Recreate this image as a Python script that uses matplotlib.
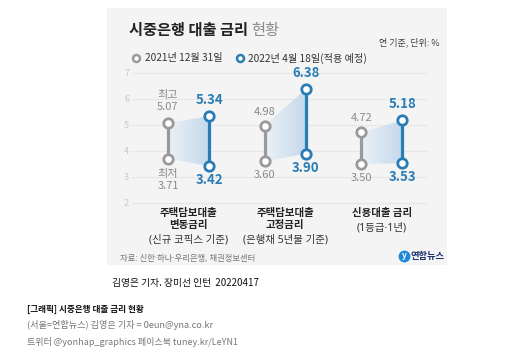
import numpy as np
import matplotlib
matplotlib.use('Agg')
import matplotlib.pyplot as plt
from matplotlib.patches import Rectangle, Polygon
from matplotlib.colors import LinearSegmentedColormap

plt.rcParams['font.family'] = ['Noto Sans CJK KR', 'DejaVu Sans']

# data
cat_main = ['주택담보대출\n변동금리', '주택담보대출\n고정금리', '신용대출 금리']
cat_sub = ['(신규 코픽스 기준)', '(은행채 5년물 기준)', '(1등급·1년)']
high_2021 = [5.07, 4.98, 4.72]
low_2021 = [3.71, 3.60, 3.50]
high_2022 = [5.34, 6.38, 5.18]
low_2022 = [3.42, 3.90, 3.53]
yticks = [2, 3, 4, 5, 6, 7]
legend_labels = ['2021년 12월 31일', '2022년 4월 18일(적용 예정)']

GREY = '#9a9a9a'
BLUE = '#2a7db4'
W, H = 510, 356
MIXED = ['Noto Sans', 'Noto Sans CJK KR']


def fx(px):
    return px / W


def fy(py):
    return 1 - py / H


fig = plt.figure(figsize=(5.1, 3.56), dpi=100)
fig.patch.set_facecolor('white')

# card background
fig.patches.append(Rectangle((fx(107), fy(265)), fx(447) - fx(107), fy(8) - fy(265),
                             transform=fig.transFigure, facecolor='#f4f4f4',
                             edgecolor='none', zorder=-5))

ax = fig.add_axes([fx(107), fy(208), fx(447) - fx(107), fy(68) - fy(208)])
ax.set_facecolor('none')
ax.set_zorder(2)
for s in ax.spines.values():
    s.set_visible(False)
ax.set_xticks([])
ax.set_yticks([])

x = np.arange(len(cat_main))
off = 0.212
xg = x - off
xb = x + off

# grid + tick labels
for t in yticks:
    ax.plot([-0.58, 2.45], [t, t], color='#e6e6e6', lw=0.8, zorder=1)
    ax.text(-0.64, t, str(t), ha='center', va='center', fontsize=6.5, color='#c8c8c8')

# shaded band between the two dates
cmap = LinearSegmentedColormap.from_list('band', ['#ebf0f5', '#c4d9ec'])
grad = np.linspace(0, 1, 64).reshape(1, -1)
for i in range(len(x)):
    poly = Polygon([(xg[i], high_2021[i]), (xb[i], high_2022[i]),
                    (xb[i], low_2022[i]), (xg[i], low_2021[i])],
                   closed=True, facecolor='none', edgecolor='none')
    ax.add_patch(poly)
    im = ax.imshow(grad, cmap=cmap, aspect='auto', zorder=2,
                   extent=[xg[i], xb[i], min(low_2021[i], low_2022[i]),
                           max(high_2021[i], high_2022[i])])
    im.set_clip_path(poly)

# range bars
for i in range(len(x)):
    ax.plot([xg[i], xg[i]], [low_2021[i], high_2021[i]], color=GREY, lw=2.3,
            marker='o', ms=6.8, mfc='white', mec=GREY, mew=2, zorder=3)
    ax.plot([xb[i], xb[i]], [low_2022[i], high_2022[i]], color=BLUE, lw=2.3,
            marker='o', ms=6.8, mfc='white', mec=BLUE, mew=2, zorder=3)

# value labels
for i in range(len(x)):
    top_g = f'{high_2021[i]:.2f}'
    bot_g = f'{low_2021[i]:.2f}'
    if i == 0:
        ax.annotate('최고\n' + top_g, (xg[i], high_2021[i]), xytext=(0, 22),
                    textcoords='offset pixels', ha='center', va='center',
                    fontsize=8, color='#8a8a8a', linespacing=1.25)
        ax.annotate('최저\n' + bot_g, (xg[i], low_2021[i]), xytext=(0, -21),
                    textcoords='offset pixels', ha='center', va='center',
                    fontsize=8, color='#8a8a8a', linespacing=1.25)
    else:
        ax.annotate(top_g, (xg[i], high_2021[i]), xytext=(0, 14),
                    textcoords='offset pixels', ha='center', va='center',
                    fontsize=8, color='#8a8a8a')
        ax.annotate(bot_g, (xg[i], low_2021[i]), xytext=(0, -14),
                    textcoords='offset pixels', ha='center', va='center',
                    fontsize=8, color='#8a8a8a')
    ax.annotate(f'{high_2022[i]:.2f}', (xb[i], high_2022[i]), xytext=(0, 16),
                textcoords='offset pixels', ha='center', va='center',
                fontsize=9.5, fontweight='bold', color=BLUE)
    ax.annotate(f'{low_2022[i]:.2f}', (xb[i], low_2022[i]), xytext=(0, -14),
                textcoords='offset pixels', ha='center', va='center',
                fontsize=9.5, fontweight='bold', color=BLUE)

ax.set_xlim(-0.842, 2.672)
ax.set_ylim(2 - 5 / 26, 7 + 5 / 26)

# category labels
for i in range(len(x)):
    lines = cat_main[i].split('\n')
    for j, ln in enumerate(lines):
        ax.annotate(ln, (x[i], 2), xytext=(0, -10 - 12 * j), textcoords='offset pixels',
                    ha='center', va='center', fontsize=7.5, fontweight='bold',
                    color='#222222')
    ax.annotate(cat_sub[i], (x[i], 2), xytext=(0, -10 - 12 * len(lines) - 2.5),
                textcoords='offset pixels', ha='center', va='center',
                fontsize=7.5, color='#333333', family=MIXED)

# title
t1 = fig.text(fx(129), fy(35), '시중은행 대출 금리', fontsize=11, fontweight='bold',
              color='#222222', va='baseline')
fig.canvas.draw()
bb = t1.get_window_extent()
fig.text(fx(bb.x1 + 3), fy(35), '현황', fontsize=11, color='#8a8a8a', va='baseline')
fig.text(fx(440), fy(42), '연 기준, 단위: %', fontsize=6.5, color='#444444',
         ha='right', va='center')

# legend
fig.lines.append(plt.Line2D([fx(136)], [fy(58)], transform=fig.transFigure, marker='o',
                            ms=5, mfc='white', mec=GREY, mew=1.8))
fig.text(fx(145), fy(58), legend_labels[0], fontsize=7.3, color='#333333', va='center')
fig.lines.append(plt.Line2D([fx(240)], [fy(58)], transform=fig.transFigure, marker='o',
                            ms=5, mfc='white', mec=BLUE, mew=1.8))
fig.text(fx(248), fy(58), legend_labels[1], fontsize=7.3, color='#333333', va='center')

# source + logo
fig.text(fx(120), fy(259), '자료: 신한·하나·우리은행, 채권정보센터', fontsize=6,
         color='#777777', va='center', family=MIXED)
fig.lines.append(plt.Line2D([fx(404)], [fy(256)], transform=fig.transFigure, marker='o',
                            ms=7.5, mfc='#1e88d8', mec='#1e88d8'))
fig.text(fx(404), fy(256), 'y', fontsize=6, color='white', fontweight='bold',
         ha='center', va='center', style='italic')
fig.text(fx(411), fy(256), '연합뉴스', fontsize=6.7, color='#1b2f6b', fontweight='bold',
         va='center')

# credits below the card
fig.text(fx(112), fy(283), '김영은 기자. 장미선 인턴  20220417', fontsize=7, color='#111111',
         va='center')
fig.text(fx(27), fy(309), '[그래픽] 시중은행 대출 금리 현황', fontsize=6.2, color='#111111',
         fontweight='bold', va='center')
fig.text(fx(27), fy(325), '(서울=연합뉴스) 김영은 기자 = 0eun@yna.co.kr', fontsize=6.6,
         color='#777777', va='center')
fig.text(fx(27), fy(342), '트위터 @yonhap_graphics 페이스북 tuney.kr/LeYN1', fontsize=6.5,
         color='#777777', va='center')

fig.savefig('out.png', dpi=100)
